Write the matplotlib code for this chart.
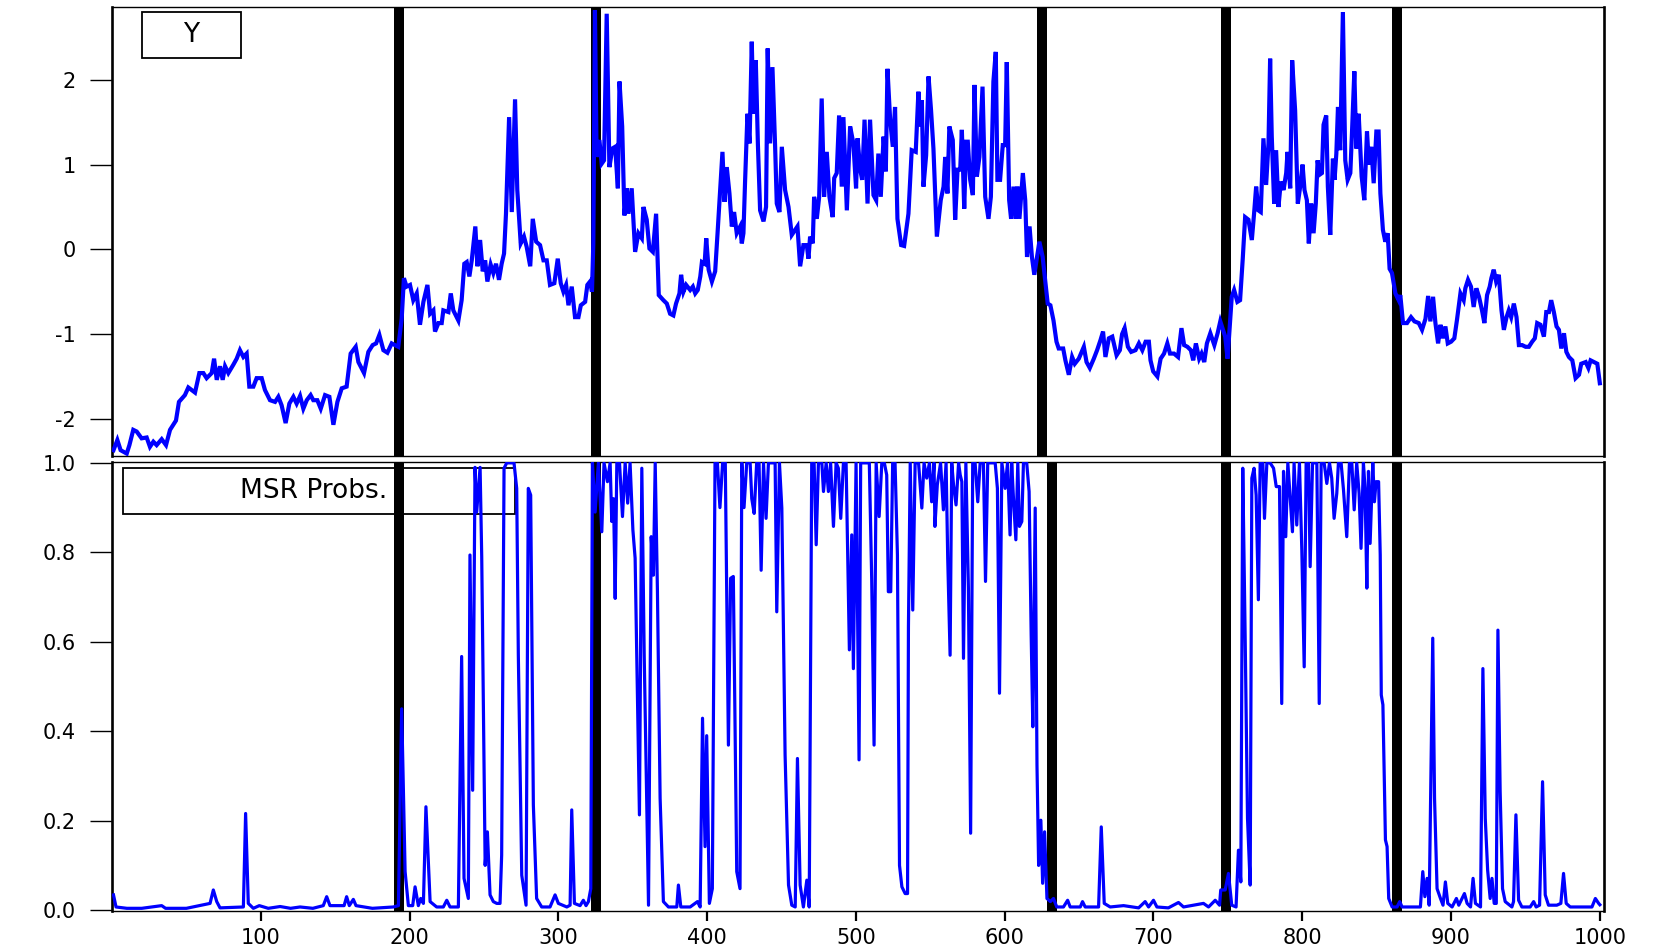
import matplotlib
matplotlib.use("Agg")
import matplotlib.pyplot as plt
from matplotlib.patches import Rectangle

plt.rcParams['font.family'] = ['DejaVu Sans']
plt.rcParams['axes.unicode_minus'] = False

# ---------------- data ----------------
y_x = [1, 3.6, 5.8, 9.9, 11.7, 14.3, 16.6, 19.9, 23.3, 25.5, 27.8, 30, 33.4, 36.3, 39, 43, 45, 49, 51.3,
       55.8, 58.7, 61.4, 63.6, 67, 68.6, 70.4, 72.6, 74.4, 76, 78.2, 81.6, 83.8, 86, 88.3, 90.5, 92.3, 95,
       97.2, 100.6, 102.8, 106.2, 109.6, 111.8, 114, 116.7, 119.2, 121.9, 124.1, 126.4, 128.6, 130.9, 133.5,
       135.3, 138, 140.3, 143.2, 146.1, 148.8, 151.5, 154.4, 157.7, 160.4, 163.8, 165.6, 169.4, 172.3, 175.2,
       177.5, 179.7, 182.4, 185.1, 188, 190.2, 192.4, 194.7, 196.2, 198, 200.3, 202.5, 204.8, 207, 209.3,
       212, 213.8, 216, 217.1, 219.4, 221.6, 222.7, 226.1, 227.7, 229.4, 232.8, 235, 236.8, 238.4, 240.2,
       241.8, 244.2, 245.6, 247.4, 249.2, 250.8, 252.3, 254.5, 256.3, 258.1, 260.1, 261.9, 263.5, 264.8,
       266.9, 268.7, 270.9, 272.4, 274.7, 276.9, 278.7, 281.1, 282.8, 285.1, 287.7, 290, 292.2, 294.4, 297.3,
       299.6, 301.6, 303.4, 305.2, 306.8, 309, 311.2, 313.5, 315.1, 318, 319.5, 321.3, 322.6, 323.5, 324.6,
       325.7, 327.6, 329.1, 330.7, 332.5, 334.3, 336.3, 338.2, 340, 341.1, 342.9, 344.4, 346, 347.1, 349.3,
       351.6, 353.8, 356.1, 357.2, 359.4, 361.2, 363.5, 365.7, 367.5, 370.6, 372.9, 375.1, 377.3, 379.1,
       381.4, 382.5, 384.1, 385.9, 388.6, 390.4, 392, 393.7, 395.4, 396.5, 398.3, 399.4, 401, 403.2, 405.4,
       407, 408.8, 410.3, 411.7, 413.2, 415, 416.6, 418.1, 419.9, 422.2, 423.3, 424.4, 425.5, 427.1, 428.5,
       430, 431.1, 432.7, 434.1, 435.6, 437.9, 439.6, 440.7, 442.3, 443.9, 445.7, 446.8, 448.6, 450.2, 452.4,
       454.7, 456.9, 459.2, 460.7, 462.5, 464.7, 467, 468.1, 469.2, 471, 471.9, 473.7, 475.3, 477, 478.6,
       480.4, 482.2, 484.4, 485.4, 487.1, 488.7, 490.5, 491.6, 493.9, 496.1, 498.3, 500.1, 501.1, 502.9,
       504.2, 505.8, 507.8, 509.5, 511.8, 513.6, 515.1, 516.7, 518.6, 520.1, 521.2, 523, 524.8, 526.3, 527.9,
       530.4, 532.4, 535.3, 537.5, 540.2, 542, 543.2, 544.3, 545.4, 547.2, 548.8, 550.5, 552.1, 554.4, 557,
       558.9, 560, 561.5, 562.8, 565.1, 566.7, 568.3, 570.1, 571.2, 572.8, 574.1, 575.2, 576.8, 578.6, 579.7,
       581.3, 583, 585.1, 586.9, 589.1, 590.7, 592.4, 594, 595.1, 596.9, 598.7, 600.3, 601.4, 603, 604.3,
       605.9, 607.5, 608.6, 609.9, 612.2, 613.8, 615, 616.7, 618.3, 619.9, 621.7, 623.3, 625.5, 627.3, 628.9,
       630.7, 632.8, 634.8, 636.3, 639.3, 640.8, 643.1, 645.3, 647.1, 649.8, 653.2, 655, 657.2, 659.9, 662.1,
       664.4, 666.1, 667.7, 670, 672.3, 675.2, 677.4, 678.9, 680.6, 682.8, 685, 687.9, 690.2, 692.5, 694.7,
       696.9, 698, 699.8, 702.6, 704.8, 707.1, 709.3, 711.1, 713.8, 716.5, 718.8, 720.6, 722.8, 725.1, 726.7,
       728.5, 730.7, 732.3, 734.1, 735.9, 738.2, 740.9, 743.1, 744.9, 748.2, 749.8, 752.6, 754.2, 756.4,
       758.2, 760, 761.6, 763.8, 766.1, 767.6, 769, 770.5, 772.1, 773.9, 775.7, 777.3, 778.4, 779.5, 781.1,
       782.4, 784, 785.6, 787.4, 789.2, 790.1, 791.9, 793.2, 795.2, 797, 798.6, 800.2, 801.5, 803.1, 804.4,
       806, 807.6, 809.1, 810.3, 811.6, 813.2, 814.3, 816.1, 817.2, 818.8, 820.6, 821.7, 822.9, 824, 825.5,
       827.3, 828.9, 830.5, 832.3, 833.4, 835, 836.3, 837.9, 839.9, 841.7, 843.5, 844.8, 846.4, 848, 849.8,
       851.3, 852.5, 854.2, 855.8, 857.4, 858.7, 860.3, 862.6, 864.8, 865.9, 867.7, 870.4, 873.1, 875.4,
       878.3, 880.5, 882.8, 884.6, 886.1, 887.9, 889.5, 891.3, 892.9, 894.5, 896.2, 897.8, 900, 902.2, 904,
       906.3, 908.5, 909.6, 911.4, 913.4, 915.2, 917, 918.8, 920.8, 922.4, 924.2, 926, 927.1, 928.7, 930.3,
       932.1, 933.9, 935.5, 937.3, 938.8, 940.4, 942.2, 944, 945.6, 947.8, 950.1, 952.3, 954.5, 956.3, 957.9,
       960.1, 962.4, 964, 965.8, 967.3, 969.1, 970.9, 972.5, 974.1, 975.9, 977.5, 979.2, 981.5, 983.7, 986,
       987.5, 990.5, 992.3, 993.8, 996.1, 998.3, 1000]
y_val = [-2.37, -2.25, -2.37, -2.41, -2.31, -2.13, -2.15, -2.23, -2.22, -2.33, -2.27, -2.31, -2.24, -2.31, -2.13,
         -2.02, -1.80, -1.72, -1.63, -1.69, -1.46, -1.46, -1.52, -1.46, -1.29, -1.54, -1.38, -1.54, -1.38, -1.46,
         -1.36, -1.29, -1.19, -1.27, -1.23, -1.62, -1.62, -1.52, -1.52, -1.66, -1.78, -1.80, -1.74, -1.84, -2.05,
         -1.82, -1.74, -1.82, -1.73, -1.88, -1.78, -1.72, -1.78, -1.78, -1.88, -1.72, -1.74, -2.07, -1.80, -1.64,
         -1.62, -1.23, -1.15, -1.33, -1.46, -1.21, -1.13, -1.11, -1.01, -1.19, -1.22, -1.11, -1.13, -1.15, -0.82,
         -0.34, -0.44, -0.42, -0.60, -0.52, -0.89, -0.62, -0.42, -0.76, -0.72, -0.97, -0.87, -0.87, -0.72, -0.74,
         -0.52, -0.72, -0.84, -0.60, -0.17, -0.15, -0.32, -0.13, 0.27, -0.20, 0.11, -0.26, -0.13, -0.38, -0.18,
         -0.28, -0.17, -0.36, -0.17, -0.05, 0.42, 1.56, 0.44, 1.77, 0.70, 0.07, 0.15, 0.03, -0.20, 0.36, 0.09,
         0.05, -0.13, -0.13, -0.42, -0.40, -0.11, -0.40, -0.50, -0.42, -0.66, -0.44, -0.80, -0.80, -0.66, -0.62,
         -0.42, -0.38, -0.50, 0.07, 2.82, 1.09, 1.29, 1.01, 1.05, 2.78, 0.97, 1.19, 1.21, 0.72, 1.98, 1.45, 0.40,
         0.72, 0.42, 0.72, -0.03, 0.19, 0.13, 0.50, 0.35, 0.01, -0.03, 0.42, -0.54, -0.60, -0.64, -0.76, -0.78,
         -0.64, -0.52, -0.30, -0.50, -0.42, -0.48, -0.44, -0.52, -0.48, -0.32, -0.15, -0.17, 0.13, -0.24, -0.38,
         -0.26, 0.19, 0.72, 1.15, 0.56, 0.97, 0.66, 0.27, 0.44, 0.19, 0.27, 0.07, 0.19, 0.80, 1.60, 1.25, 2.45,
         1.60, 2.23, 1.25, 0.46, 0.33, 0.50, 2.37, 1.25, 2.15, 1.21, 0.54, 0.44, 1.21, 0.70, 0.50, 0.17, 0.23,
         0.27, -0.20, 0.05, 0.05, -0.11, 0.15, 0.07, 0.62, 0.36, 0.62, 1.78, 0.62, 1.15, 0.62, 0.38, 0.84, 0.90,
         1.58, 0.74, 1.56, 0.46, 1.45, 1.25, 0.72, 1.31, 0.94, 0.82, 1.53, 0.54, 1.53, 0.64, 0.58, 1.13, 0.62,
         1.33, 0.92, 2.13, 1.53, 1.21, 1.68, 0.36, 0.05, 0.04, 0.42, 1.17, 1.15, 1.86, 1.45, 1.76, 0.74, 1.11,
         2.04, 1.64, 1.19, 0.15, 0.58, 0.74, 1.09, 0.66, 1.45, 1.29, 0.35, 0.94, 0.94, 1.41, 0.48, 1.27, 1.27,
         0.82, 0.64, 1.94, 0.86, 1.09, 1.92, 0.62, 0.36, 0.62, 1.98, 2.33, 0.82, 0.82, 1.23, 1.23, 2.21, 0.58,
         0.36, 0.74, 0.36, 0.74, 0.36, 0.90, 0.58, -0.09, 0.27, -0.09, -0.30, -0.09, 0.09, -0.09, -0.38, -0.64,
         -0.66, -0.84, -1.09, -1.17, -1.17, -1.31, -1.48, -1.27, -1.35, -1.29, -1.15, -1.33, -1.40, -1.29, -1.19,
         -1.07, -0.97, -1.27, -1.05, -1.03, -1.25, -1.19, -1.00, -0.93, -1.15, -1.21, -1.19, -1.11, -1.19, -1.09,
         -1.09, -1.31, -1.44, -1.50, -1.29, -1.23, -1.11, -1.23, -1.23, -1.27, -0.93, -1.13, -1.15, -1.19, -1.31,
         -1.11, -1.29, -1.23, -1.33, -1.11, -0.99, -1.13, -0.99, -0.85, -1.03, -1.29, -0.56, -0.48, -0.62, -0.60,
         -0.11, 0.38, 0.35, 0.11, 0.42, 0.74, 0.46, 0.44, 1.31, 0.76, 1.25, 2.25, 1.33, 0.54, 1.17, 0.50, 0.80,
         0.70, 0.90, 1.15, 0.72, 2.23, 1.64, 0.54, 0.74, 1.00, 0.70, 0.58, 0.07, 0.54, 0.19, 0.54, 1.05, 0.88,
         0.90, 1.47, 1.58, 0.74, 0.17, 1.07, 0.82, 1.13, 1.68, 1.17, 2.80, 1.05, 0.82, 0.90, 1.37, 2.10, 1.19,
         1.60, 0.86, 0.58, 1.39, 1.00, 1.21, 0.78, 1.39, 1.39, 0.66, 0.23, 0.09, 0.19, -0.23, -0.28, -0.52, -0.60,
         -0.54, -0.87, -0.87, -0.80, -0.85, -0.87, -0.95, -0.82, -0.55, -0.85, -0.56, -0.87, -1.11, -0.89, -1.05,
         -0.91, -1.11, -1.09, -1.05, -0.83, -0.52, -0.60, -0.46, -0.36, -0.44, -0.68, -0.46, -0.56, -0.72, -0.87,
         -0.54, -0.44, -0.34, -0.24, -0.38, -0.30, -0.72, -0.95, -0.80, -0.72, -0.80, -0.64, -0.80, -1.13, -1.13,
         -1.15, -1.15, -1.09, -1.05, -0.87, -0.89, -1.03, -0.74, -0.74, -0.60, -0.74, -0.91, -0.95, -1.17, -0.99,
         -1.21, -1.27, -1.31, -1.52, -1.48, -1.35, -1.33, -1.40, -1.31, -1.33, -1.35, -1.58]

p_x = [1, 2.7, 10, 20, 33.4, 36, 50, 65.9, 68.1, 70.4, 72.6, 88.3, 89.8, 91.6, 95, 99, 105, 113, 120, 126.4,
       135, 142, 144.3, 146.5, 148.8, 151, 156, 157.7, 159.5, 162.2, 164, 175, 189.1, 192.5, 194.7, 197, 199.2,
       202.1, 203.7, 205.9, 207.5, 209.3, 211, 213.8, 218.2, 222.7, 225, 227.2, 232.8, 235, 236.6, 239.5,
       240.6, 242.4, 244, 245.1, 247.4, 248.5, 250.8, 252.3, 254.1, 256.3, 258.6, 260.8, 261.9, 263.5, 265.3,
       267.5, 270.2, 272, 273.1, 275.4, 278.3, 279.8, 281.4, 283.2, 285.4, 288.8, 294.4, 297.8, 300, 305.7,
       307.9, 309, 310.8, 314.6, 316.8, 318.6, 320.2, 321.8, 322.9, 324.7, 326.9, 329.2, 330.7, 333, 334.8,
       335.9, 337.1, 338.2, 339.3, 341.1, 343.1, 344.9, 346.6, 348.2, 350.1, 351.6, 354.5, 356.1, 357.7, 360.6,
       362.4, 363.9, 365.1, 366.6, 368.4, 370.6, 374, 379.6, 380.7, 382.3, 388.6, 393.5, 395.3, 396.9, 398.6,
       399.7, 401.5, 403.5, 405.3, 406.9, 408.6, 410.4, 412.2, 414.3, 415.8, 417.6, 419.9, 422.1, 423.3, 424.8,
       426.6, 428.9, 430, 431.6, 433.3, 434.9, 436.3, 437.9, 439.6, 441.2, 443.4, 445.7, 446.8, 448.6, 450.2,
       452.4, 454.7, 456.9, 459.2, 460.7, 462.5, 464.7, 467, 468.6, 470.3, 471.9, 473.3, 474.8, 477.1, 478.2,
       480, 481.5, 483, 484.9, 486.7, 488.2, 489.8, 491.6, 493.4, 495.6, 497.2, 498.3, 500.1, 502.1, 503.2,
       505, 507.3, 509, 510.6, 512.2, 513.6, 515.6, 517.4, 519.1, 520.7, 521.8, 523.4, 524.7, 526.3, 527.9,
       529.3, 530.9, 533.1, 534.7, 535.3, 536.5, 538.2, 539.8, 542.1, 544.3, 545.8, 547.6, 549.4, 550.9,
       552.5, 553.1, 554.7, 556.9, 558.8, 560.6, 561.7, 563.3, 564.4, 565.6, 567.3, 569, 570.1, 571.2, 572.3,
       573.9, 575.6, 577.1, 578.5, 580.1, 581.9, 583.5, 585.7, 587.1, 588.6, 590.2, 592, 593.6, 595.1, 596.5,
       598.1, 600.3, 601.9, 603.6, 604.7, 605.9, 607.5, 608.8, 609.9, 611.5, 612.6, 614.8, 616.4, 617.8,
       618.9, 620.5, 621.7, 622.8, 624.3, 625.5, 626.8, 628.4, 630.7, 632.8, 635, 639.5, 642.3, 644, 650.8,
       652.3, 654.1, 663.1, 664.9, 666.9, 670.9, 679.9, 690, 694.4, 696.7, 700, 702.3, 710, 716.8, 720.2,
       726.9, 733.6, 737, 741.5, 744.4, 745.2, 748.2, 750.4, 752.6, 755.5, 757.1, 758.7, 760, 761.6, 763.2,
       765, 766.1, 767.6, 769, 770.5, 771.7, 773.5, 774.6, 776.2, 778.4, 780.7, 782.5, 784.7, 786.2, 787.4,
       788.9, 790.3, 791.9, 793.4, 794.5, 796.3, 798.1, 799.7, 801.3, 802.6, 804.2, 805.3, 806.9, 808.7,
       809.8, 811.4, 812.7, 814.7, 816.5, 818.3, 819.8, 821.4, 823.2, 824.3, 826.1, 827.7, 829.9, 831.7,
       833.3, 834.9, 836.6, 838.2, 839.5, 841.1, 842.2, 843.4, 844.5, 845.6, 847.4, 848.5, 849.6, 851.3,
       852.4, 853.1, 854.2, 855.9, 857, 858.1, 860.4, 863.7, 865.5, 867.1, 879.4, 881, 882.4, 883.9, 885.3,
       887.7, 888.9, 890.6, 892.9, 894.6, 896.2, 897.8, 900.7, 903.6, 905.2, 906.8, 909, 910.8, 913.1, 914.8,
       916.4, 919.8, 921.4, 923, 924.6, 926.3, 927.5, 929, 930.4, 931.5, 933, 934.6, 936.4, 940.9, 942,
       943.6, 945.4, 947.6, 953.2, 955.5, 957.2, 959.5, 961.5, 963.3, 965.5, 971.1, 973.8, 975.6, 977.4,
       980.1, 994.7, 997, 999.2, 1000]
p_val = [0.034, 0.007, 0.004, 0.004, 0.01, 0.004, 0.004, 0.015, 0.045, 0.019, 0.005, 0.007, 0.216, 0.015,
         0.004, 0.01, 0.004, 0.008, 0.004, 0.007, 0.004, 0.01, 0.03, 0.01, 0.01, 0.01, 0.01, 0.03, 0.01, 0.024,
         0.01, 0.004, 0.007, 0.01, 0.45, 0.086, 0.01, 0.01, 0.052, 0.01, 0.026, 0.015, 0.231, 0.019, 0.007,
         0.007, 0.022, 0.007, 0.007, 0.567, 0.071, 0.026, 0.794, 0.268, 0.99, 0.89, 0.99, 0.79, 0.10, 0.175,
         0.034, 0.019, 0.015, 0.015, 0.123, 0.988, 1.0, 1.0, 1.0, 0.943, 0.57, 0.078, 0.011, 0.943, 0.928,
         0.235, 0.026, 0.007, 0.007, 0.034, 0.015, 0.007, 0.011, 0.224, 0.015, 0.01, 0.022, 0.01, 0.019, 0.048,
         1.0, 0.89, 1.0, 0.846, 1.0, 0.958, 1.0, 0.869, 0.92, 0.697, 1.0, 1.0, 0.88, 1.0, 0.91, 1.0, 0.85,
         0.787, 0.213, 0.988, 0.57, 0.011, 0.835, 0.749, 1.0, 0.712, 0.25, 0.019, 0.007, 0.007, 0.056, 0.007,
         0.007, 0.019, 0.007, 0.429, 0.142, 0.39, 0.015, 0.048, 1.0, 1.0, 0.90, 1.0, 1.0, 0.369, 0.742, 0.746,
         0.086, 0.048, 1.0, 0.90, 1.0, 1.0, 0.92, 0.887, 1.0, 1.0, 0.76, 1.0, 0.876, 1.0, 1.0, 1.0, 0.667, 1.0,
         0.899, 0.347, 0.056, 0.011, 0.007, 0.339, 0.056, 0.007, 0.067, 0.007, 1.0, 1.0, 0.817, 1.0, 1.0,
         0.936, 1.0, 0.936, 1.0, 0.858, 1.0, 0.988, 0.876, 1.0, 1.0, 0.582, 0.839, 0.54, 1.0, 0.336, 1.0, 1.0,
         1.0, 1.0, 0.742, 0.369, 1.0, 0.88, 1.0, 1.0, 0.973, 0.712, 0.712, 1.0, 1.0, 0.794, 0.10, 0.052, 0.037,
         0.037, 0.634, 1.0, 0.671, 1.0, 1.0, 0.899, 1.0, 0.966, 1.0, 0.913, 1.0, 0.858, 0.951, 1.0, 0.895, 1.0,
         0.787, 0.57, 1.0, 0.951, 0.906, 1.0, 0.973, 0.958, 0.563, 1.0, 0.72, 0.172, 1.0, 1.0, 0.913, 1.0, 1.0,
         0.735, 1.0, 1.0, 1.0, 1.0, 0.943, 0.485, 1.0, 0.943, 1.0, 0.839, 1.0, 0.92, 0.828, 1.0, 0.858, 0.869,
         1.0, 1.0, 0.936, 0.615, 0.41, 0.899, 0.324, 0.10, 0.201, 0.06, 0.175, 0.026, 0.019, 0.026, 0.007,
         0.007, 0.022, 0.007, 0.007, 0.019, 0.007, 0.007, 0.186, 0.015, 0.007, 0.01, 0.005, 0.019, 0.007,
         0.022, 0.007, 0.005, 0.017, 0.007, 0.011, 0.015, 0.007, 0.022, 0.011, 0.045, 0.045, 0.082, 0.011,
         0.007, 0.134, 0.063, 0.988, 0.615, 0.205, 0.056, 0.966, 0.988, 0.928, 0.694, 1.0, 1.0, 0.876, 1.0,
         1.0, 0.988, 0.947, 0.947, 0.462, 0.981, 0.835, 1.0, 0.92, 0.846, 1.0, 0.861, 1.0, 0.805, 0.544, 1.0,
         1.0, 0.768, 1.0, 1.0, 1.0, 0.462, 1.0, 1.0, 0.954, 1.0, 0.966, 0.876, 0.932, 1.0, 1.0, 0.94, 0.835,
         1.0, 1.0, 0.895, 1.0, 0.932, 0.809, 1.0, 0.943, 0.72, 0.981, 0.82, 1.0, 0.913, 0.958, 0.958, 0.794,
         0.481, 0.459, 0.157, 0.142, 0.026, 0.007, 0.007, 0.019, 0.007, 0.007, 0.086, 0.03, 0.071, 0.011,
         0.608, 0.25, 0.048, 0.026, 0.011, 0.063, 0.015, 0.007, 0.026, 0.011, 0.022, 0.037, 0.015, 0.007,
         0.071, 0.015, 0.007, 0.54, 0.205, 0.089, 0.026, 0.071, 0.015, 0.015, 0.626, 0.265, 0.048, 0.019,
         0.007, 0.019, 0.213, 0.022, 0.007, 0.007, 0.019, 0.007, 0.011, 0.287, 0.034, 0.011, 0.011, 0.015,
         0.082, 0.015, 0.007, 0.007, 0.026, 0.015, 0.012]

breaks_top = [192.6, 325.3, 625.3, 748.5, 863.7]
breaks_bottom = [192.6, 325.3, 632.1, 748.5, 863.7]

y_ticks = [-2, -1, 0, 1, 2]
y_ticklabels = ['-2', '-1', '0', '1', '2']
p_ticks = [0.0, 0.2, 0.4, 0.6, 0.8, 1.0]
p_ticklabels = ['0.0', '0.2', '0.4', '0.6', '0.8', '1.0']
x_ticks = [100, 200, 300, 400, 500, 600, 700, 800, 900, 1000]
x_ticklabels = ['100', '200', '300', '400', '500', '600', '700', '800', '900', '1000']

# ---------------- figure ----------------
W, H = 1665, 947
fig = plt.figure(figsize=(W / 100, H / 100), dpi=100)
fig.patch.set_facecolor('white')

L, R = 112, 1604
ax1 = fig.add_axes([L / W, 1 - 455.7 / H, (R - L) / W, (455.7 - 6.7) / H])
ax2 = fig.add_axes([L / W, 1 - 911 / H, (R - L) / W, 449 / H])

XMAX = 1002.8
blue = (0, 0, 1)

for ax in (ax1, ax2):
    ax.set_xlim(0, XMAX)
    for side in ('left', 'right'):
        ax.spines[side].set_linewidth(1.9)
    for side in ('top', 'bottom'):
        ax.spines[side].set_linewidth(1.0)

# top panel
ax1.set_ylim(-2.435, 2.863)
for b in breaks_top:
    ax1.axvline(b, color='black', lw=7.2, zorder=1)
ax1.plot(y_x, y_val, color=blue, lw=3.0, zorder=3, solid_joinstyle='miter')
ax1.set_xticks([])
ax1.set_yticks(y_ticks)
ax1.set_yticklabels(y_ticklabels)
ax1.tick_params(axis='y', direction='out', length=16, width=1.0, pad=10, labelsize=15)
ax1.add_patch(Rectangle((0.0199, 0.8857), 0.0666, 0.1032, transform=ax1.transAxes,
                        facecolor='white', edgecolor='black', lw=1.3, zorder=0.5))
ax1.text(0.053, 0.937, 'Y', transform=ax1.transAxes, ha='center', va='center',
         fontsize=19, zorder=4)

# bottom panel
ax2.set_ylim(-0.002, 1.002)
for b in breaks_bottom:
    ax2.axvline(b, color='black', lw=7.2, zorder=1)
ax2.plot(p_x, p_val, color=blue, lw=2.3, zorder=3)
ax2.set_yticks(p_ticks)
ax2.set_yticklabels(p_ticklabels)
ax2.set_xticks(x_ticks)
ax2.set_xticklabels(x_ticklabels)
ax2.tick_params(axis='y', direction='out', length=16, width=1.0, pad=10, labelsize=15)
ax2.tick_params(axis='x', direction='out', length=7, width=1.6, pad=5, labelsize=15)
ax2.add_patch(Rectangle((0.0074, 0.884), 0.2627, 0.1026, transform=ax2.transAxes,
                        facecolor='white', edgecolor='black', lw=1.3, zorder=0.5))
ax2.text(0.135, 0.935, 'MSR Probs.', transform=ax2.transAxes, ha='center', va='center',
         fontsize=19, zorder=4)

fig.savefig('out.png', dpi=100, facecolor='white')
